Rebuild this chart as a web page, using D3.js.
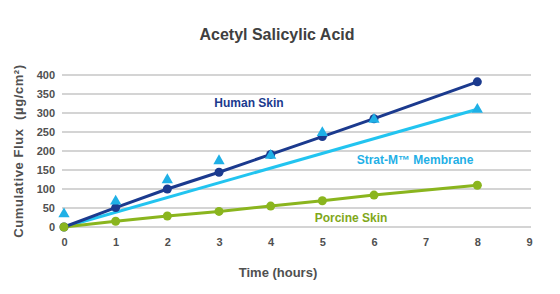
<!DOCTYPE html>
<html>
<head>
<meta charset="utf-8">
<script src="https://cdn.jsdelivr.net/npm/d3@7"></script>
<style>
  body { margin: 0; background: #fff; }
  svg text { font-family: Arial, "Liberation Sans", sans-serif; }
</style>
</head>
<body>
<svg id="chart" width="560" height="294" viewBox="0 0 560 294"></svg>
<script>
// time points (hours)
const hours = [0, 1, 2, 3, 4, 5, 6, 8];
// measured cumulative flux (µg/cm²)
const humanSkin = [0, 51, 100, 144, 191, 238, 285, 382];
const stratM = [34, 68, 124, 174, 188, 248, 283, 309];
const porcineSkin = [0, 15, 29, 41, 55, 69, 84, 110];
// Strat-M trend line endpoints
const stratTrendHours = [0, 8];
const stratTrend = [0, 310];

const xTicks = [0, 1, 2, 3, 4, 5, 6, 7, 8, 9];
const yTicks = [0, 50, 100, 150, 200, 250, 300, 350, 400];

const svg = d3.select("#chart");

const x = d3.scaleLinear().domain([0, 9]).range([64, 529]);
const y = d3.scaleLinear().domain([0, 400]).range([227, 75]);

const navy = "#1b3a8e";
const cyan = "#22c4f0";
const cyanMark = "#1fb0e6";
const green = "#8ab51e";

// title
svg.append("text")
    .attr("x", 277).attr("y", 40)
    .attr("text-anchor", "middle")
    .attr("font-size", 16).attr("font-weight", "bold")
    .attr("fill", "#404040")
    .text("Acetyl Salicylic Acid");

// gridlines
svg.append("g")
    .selectAll("line")
    .data(yTicks)
    .enter()
    .append("line")
    .attr("x1", 62).attr("x2", 531)
    .attr("y1", d => y(d)).attr("y2", d => y(d))
    .attr("stroke", "#c6c6c6")
    .attr("stroke-width", 1.5);

// y axis labels
const yAxis = svg.append("g")
    .attr("transform", "translate(55,0)")
    .call(d3.axisLeft(y).tickValues(yTicks).tickSize(0).tickPadding(0));
yAxis.select(".domain").remove();
yAxis.selectAll("text")
    .attr("font-size", 11).attr("font-weight", "bold")
    .attr("fill", "#505050")
    .attr("font-family", "Arial, 'Liberation Sans', sans-serif");

// x axis labels
const xAxis = svg.append("g")
    .attr("transform", "translate(0,238)")
    .call(d3.axisBottom(x).tickValues(xTicks).tickSize(0).tickPadding(0));
xAxis.select(".domain").remove();
xAxis.selectAll("text")
    .attr("font-size", 11).attr("font-weight", "bold")
    .attr("fill", "#505050")
    .attr("font-family", "Arial, 'Liberation Sans', sans-serif");

// axis titles
svg.append("text")
    .attr("transform", "translate(23,151) rotate(-90)")
    .attr("text-anchor", "middle")
    .attr("font-size", 13).attr("font-weight", "bold")
    .attr("fill", "#505050")
    .attr("letter-spacing", 0.6)
    .attr("xml:space", "preserve")
    .text("Cumulative Flux  (µg/cm²)");

svg.append("text")
    .attr("x", 278).attr("y", 277)
    .attr("text-anchor", "middle")
    .attr("font-size", 13).attr("font-weight", "bold")
    .attr("fill", "#505050")
    .text("Time (hours)");

const line = d3.line().x(d => x(d[0])).y(d => y(d[1]));

// Strat-M trend line
svg.append("path")
    .datum(d3.zip(stratTrendHours, stratTrend))
    .attr("d", line)
    .attr("fill", "none")
    .attr("stroke", cyan)
    .attr("stroke-width", 3);

// porcine line + markers
svg.append("path")
    .datum(d3.zip(hours, porcineSkin))
    .attr("d", line)
    .attr("fill", "none")
    .attr("stroke", green)
    .attr("stroke-width", 3);

// human line
svg.append("path")
    .datum(d3.zip(hours, humanSkin))
    .attr("d", line)
    .attr("fill", "none")
    .attr("stroke", navy)
    .attr("stroke-width", 3);

svg.append("g")
    .selectAll("circle")
    .data(d3.zip(hours, humanSkin))
    .enter()
    .append("circle")
    .attr("cx", d => x(d[0])).attr("cy", d => y(d[1]))
    .attr("r", 4.5)
    .attr("fill", navy);

// Strat-M triangles
const tri = d3.symbol().type(d3.symbolTriangle).size(55);
svg.append("g")
    .selectAll("path")
    .data(d3.zip(hours, stratM))
    .enter()
    .append("path")
    .attr("d", tri)
    .attr("transform", d => `translate(${x(d[0])},${y(d[1])})`)
    .attr("fill", cyanMark);

svg.append("g")
    .selectAll("circle")
    .data(d3.zip(hours, porcineSkin))
    .enter()
    .append("circle")
    .attr("cx", d => x(d[0])).attr("cy", d => y(d[1]))
    .attr("r", 4.5)
    .attr("fill", green);

// series labels
const labels = [
    { text: "Human Skin", x: 249, y: 107, color: navy },
    { text: "Strat-M™ Membrane", x: 415, y: 164, color: "#1fb0e6" },
    { text: "Porcine Skin", x: 351, y: 222, color: "#7fa81a" }
];
svg.append("g")
    .selectAll("text")
    .data(labels)
    .enter()
    .append("text")
    .attr("x", d => d.x).attr("y", d => d.y)
    .attr("text-anchor", "middle")
    .attr("font-size", 12).attr("font-weight", "bold")
    .attr("fill", d => d.color)
    .text(d => d.text);
</script>
</body>
</html>
